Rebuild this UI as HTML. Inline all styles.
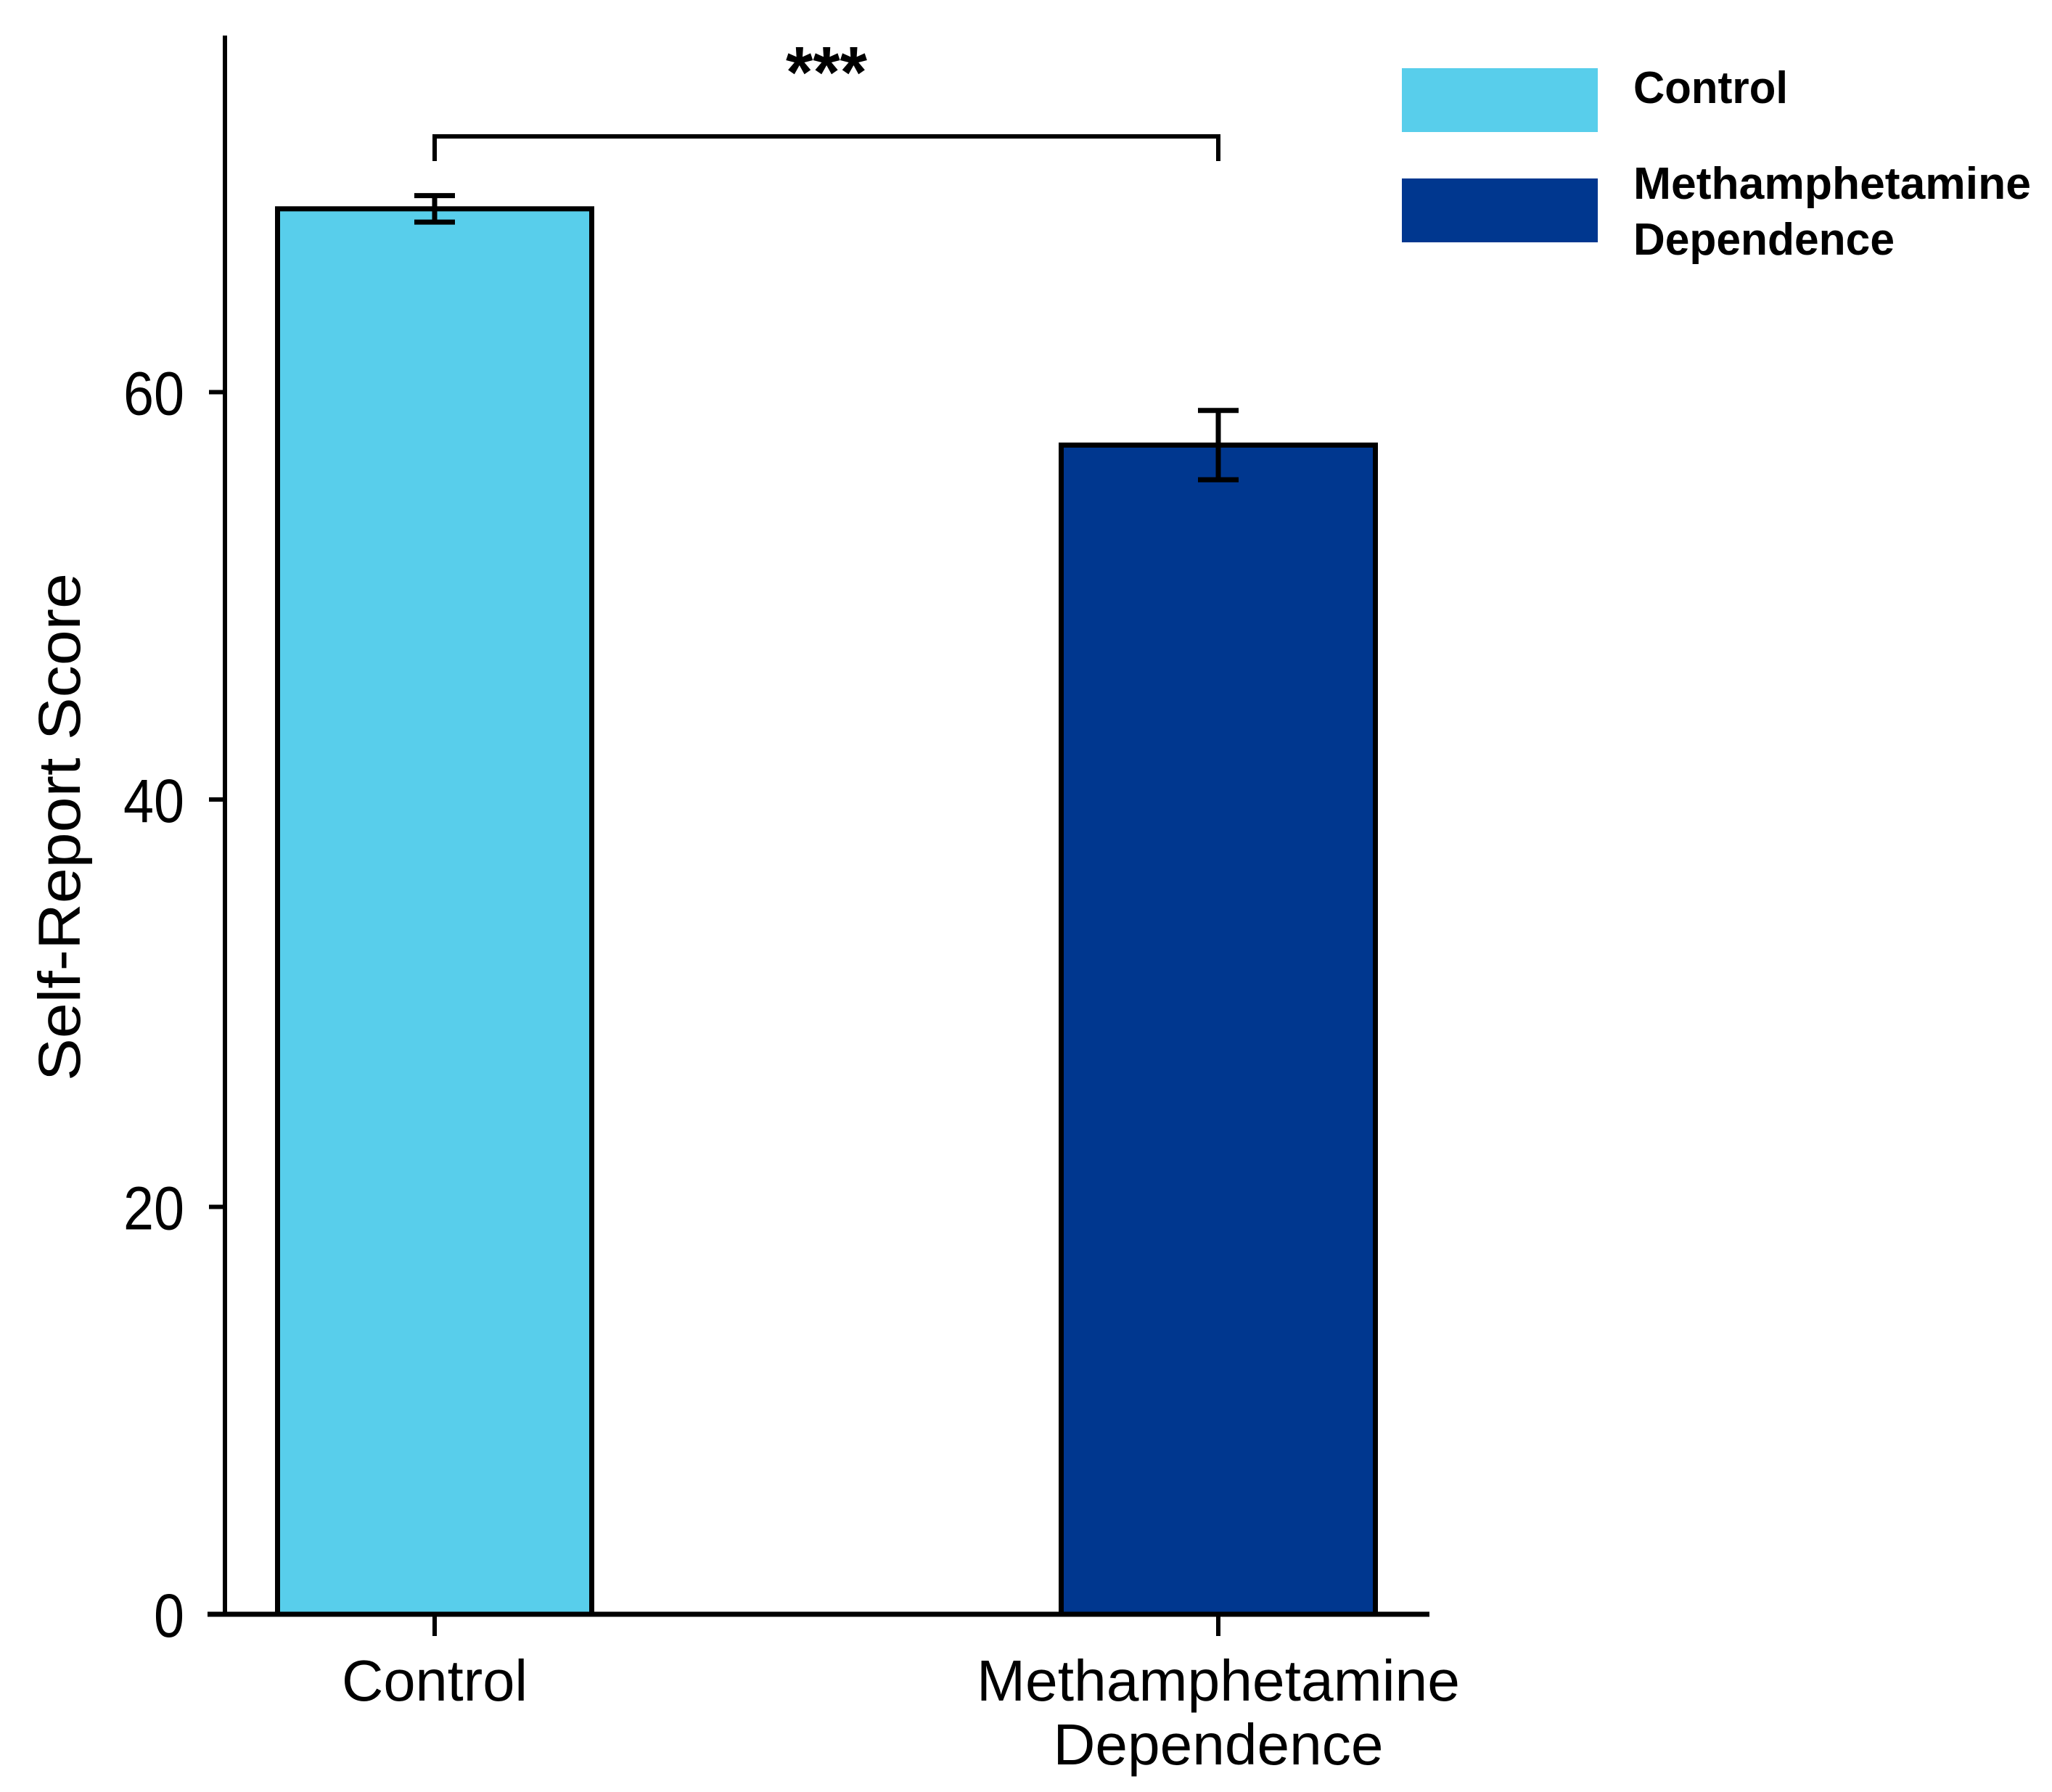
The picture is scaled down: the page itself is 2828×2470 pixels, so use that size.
<!DOCTYPE html>
<html><head><meta charset="utf-8"><style>
html,body{margin:0;padding:0;background:#fff}
svg{display:block}
text{font-family:"Liberation Sans",Arial,sans-serif;fill:#000}
</style></head><body>
<svg id="chart" width="2828" height="2470" viewBox="0 0 2828 2470" xmlns="http://www.w3.org/2000/svg">
<g id="axes"></g>
<g id="bars"></g>
<g id="annot"></g>
<g id="legend"></g>
</svg>
<script>
const categories = ["Control", "Methamphetamine Dependence"];
const values = [69.0, 57.4];
const errors = [0.65, 1.7];
const yTicks = [0, 20, 40, 60];
const colors = ["#58CEEB", "#00378F"];
const legendLabels = [["Control"], ["Methamphetamine", "Dependence"]];
const xLabelLines = [["Control"], ["Methamphetamine", "Dependence"]];

const NS = "http://www.w3.org/2000/svg";
const y0 = 2225, pxPerUnit = 561.5 / 20;
const yScale = v => y0 - v * pxPerUnit;
const xCenters = [599, 1679];
const xScale = i => xCenters[i];
const barW = 433;
function mk(tag, attrs, parent, txt) {
  const e = document.createElementNS(NS, tag);
  for (const k in attrs) e.setAttribute(k, attrs[k]);
  if (txt !== undefined) e.textContent = txt;
  parent.appendChild(e);
  return e;
}
const axes = document.getElementById("axes");
const bars = document.getElementById("bars");
const annot = document.getElementById("annot");
const legend = document.getElementById("legend");

categories.forEach((c, i) => {
  const r = mk("rect", {x: xScale(i) - barW/2, y: yScale(values[i]), width: barW, height: y0 - yScale(values[i]), fill: colors[i], stroke: "#000", "stroke-width": 7}, bars);
  
  
  const eg = mk("g", {}, bars);
  
  
  const yt = yScale(values[i] + errors[i]), yb = yScale(values[i] - errors[i]), x = xScale(i);
  mk("line", {x1: x, x2: x, y1: yt, y2: yb, stroke: "#000", "stroke-width": 7}, eg);
  mk("line", {x1: x - 28, x2: x + 28, y1: yt, y2: yt, stroke: "#000", "stroke-width": 7}, eg);
  mk("line", {x1: x - 28, x2: x + 28, y1: yb, y2: yb, stroke: "#000", "stroke-width": 7}, eg);
});

const ya = mk("line", {x1: 310, x2: 310, y1: 49, y2: y0 + 3, stroke: "#000", "stroke-width": 6}, axes);


const xa = mk("line", {x1: 286, x2: 1970, y1: y0, y2: y0, stroke: "#000", "stroke-width": 7}, axes);


yTicks.forEach(t => {
  const y = yScale(t);
  const tl = mk("line", {x1: 288, x2: 310, y1: y, y2: y, stroke: "#000", "stroke-width": 6}, axes);
  
  
  const lb = mk("text", {x: 254, y: y + 31, "text-anchor": "end", "font-size": 84, textLength: String(t).length * 42, lengthAdjust: "spacingAndGlyphs"}, axes, String(t));
  
  
});
categories.forEach((c, i) => {
  const x = xScale(i);
  const tk = mk("line", {x1: x, x2: x, y1: y0, y2: y0 + 30, stroke: "#000", "stroke-width": 6}, axes);
  
  
  xLabelLines[i].forEach((ln, j) => {
    const attrs = {x: x, y: 2344 + j * 88, "text-anchor": "middle", "font-size": 80};
    if (ln === "Methamphetamine") { attrs.textLength = 666; attrs.lengthAdjust = "spacingAndGlyphs"; }
    if (ln === "Dependence") { attrs.textLength = 455; attrs.lengthAdjust = "spacingAndGlyphs"; }
    if (ln === "Control") { attrs.textLength = 256; attrs.lengthAdjust = "spacingAndGlyphs"; }
    const t = mk("text", attrs, axes, ln);
    
    
  });
});
const yt = mk("text", {x: 0, y: 0, transform: "translate(110,1140) rotate(-90)", "text-anchor": "middle", "font-size": 82, textLength: 700, lengthAdjust: "spacingAndGlyphs"}, axes, "Self-Report Score");



const br = mk("path", {d: `M${xScale(0)} 222 V188 H${xScale(1)} V222`, fill: "none", stroke: "#000", "stroke-width": 6}, annot);


const st = mk("text", {x: (xScale(0) + xScale(1)) / 2, y: 134, "text-anchor": "middle", "font-size": 100, "font-weight": "bold", textLength: 112, lengthAdjust: "spacingAndGlyphs"}, annot, "***");



const swY = [94, 246];
legendLabels.forEach((lines, i) => {
  const g = mk("g", {}, legend);
  
  
  mk("rect", {x: 1932, y: swY[i], width: 270, height: 88, fill: colors[i]}, g);
  lines.forEach((ln, j) => {
    const ty = lines.length === 1 ? swY[i] + 48 : swY[i] + 28 + j * 77;
    const a = {x: 2251, y: ty, "font-size": 62, "font-weight": "bold"};
    if (ln === "Methamphetamine") { a.textLength = 548; a.lengthAdjust = "spacingAndGlyphs"; }
    if (ln === "Dependence") { a.textLength = 360; a.lengthAdjust = "spacingAndGlyphs"; }
    if (ln === "Control") { a.textLength = 213; a.lengthAdjust = "spacingAndGlyphs"; }
    mk("text", a, g, ln);
  });
});
</script>
</body></html>
